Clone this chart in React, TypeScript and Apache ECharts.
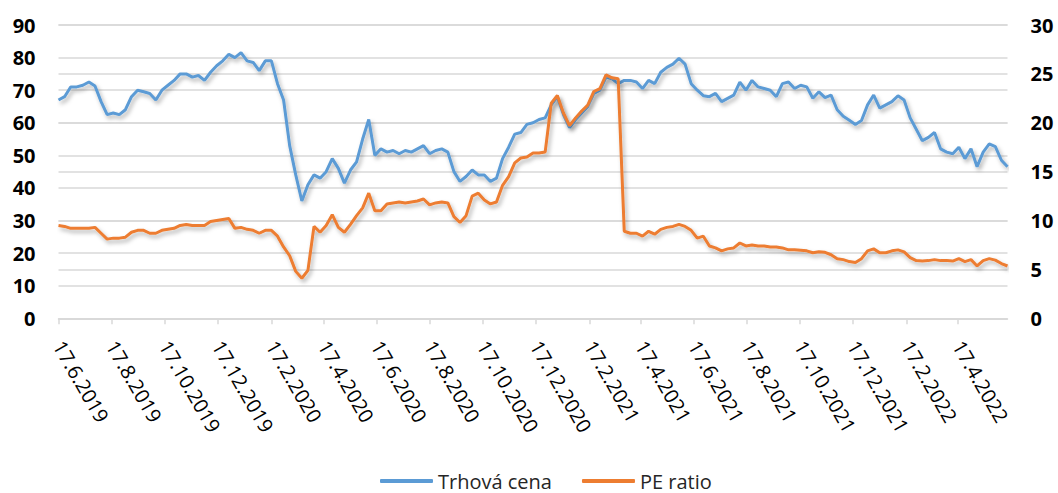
import React, { useEffect, useRef } from "react";
import * as echarts from "echarts";

// Weekly samples starting 17.6.2019
const START_LABEL = "17.6.2019";
const SAMPLE_STEP_DAYS = 7;

const PRICE = [
  67, 68, 71, 71, 71.5, 72.5, 71.3, 66.5, 62.5, 63,
  62.5, 64, 68, 70, 69.5, 69, 67, 70, 71.5, 73,
  75, 75, 74, 74.5, 73, 75.5, 77.5, 79, 81, 80,
  81.5, 79, 78.5, 76, 79, 79, 72, 67, 53, 44,
  36, 41, 44, 43, 45, 49, 46, 41.5, 45.5, 48,
  55, 61, 50, 52, 51, 51.5, 50.5, 51.5, 51, 52,
  53, 50.5, 51.5, 52, 51, 45, 42, 43.5, 45.5, 44,
  44, 42, 43, 49, 52.5, 56.5, 57, 59.5, 60, 61,
  61.5, 65.5, 68, 62.5, 58.5, 61, 63, 65, 69, 70,
  74, 73.5, 72, 73, 73, 72.5, 70.5, 73, 72, 75.5,
  77, 78, 79.8, 78, 72, 70, 68.3, 68, 69, 66.5,
  67.5, 68.5, 72.5, 70, 73, 71, 70.5, 70, 68, 72,
  72.5, 70.5, 71.5, 71, 67.5, 69.5, 67.7, 68.5, 64, 62,
  60.8, 59.5, 60.7, 65.5, 68.5, 64.5, 65.5, 66.5, 68.3, 67,
  61.5, 58, 54.5, 55.5, 57, 52, 51, 50.5, 52.5, 49,
  52, 46.5, 51, 53.5, 52.7, 48.5, 46.5,
];

const PE_RATIO = [
  9.5, 9.4, 9.2, 9.2, 9.2, 9.2, 9.3, 8.7, 8.1, 8.2,
  8.2, 8.3, 8.8, 9.0, 9.0, 8.7, 8.7, 9.0, 9.1, 9.2,
  9.5, 9.6, 9.5, 9.5, 9.5, 9.9, 10.0, 10.1, 10.2, 9.2,
  9.3, 9.1, 9.0, 8.7, 9.0, 9.0, 8.4, 7.3, 6.4, 4.8,
  4.1, 4.9, 9.4, 8.8, 9.5, 10.6, 9.3, 8.8, 9.6, 10.5,
  11.3, 12.8, 11.0, 11.0, 11.7, 11.8, 11.9, 11.8, 11.9, 12.0,
  12.2, 11.6, 11.8, 11.9, 11.8, 10.4, 9.8, 10.5, 12.5, 12.8,
  12.1, 11.7, 11.9, 13.6, 14.5, 15.9, 16.4, 16.5, 16.9, 16.9,
  17.0, 22.0, 22.8, 21.0, 19.7, 20.5, 21.2, 21.8, 23.2, 23.5,
  24.9, 24.6, 24.5, 8.9, 8.7, 8.7, 8.4, 8.9, 8.6, 9.1,
  9.3, 9.4, 9.6, 9.4, 9.0, 8.2, 8.4, 7.4, 7.2, 6.9,
  7.1, 7.2, 7.7, 7.4, 7.5, 7.4, 7.4, 7.3, 7.3, 7.2,
  7.0, 7.0, 6.95, 6.9, 6.7, 6.8, 6.75, 6.5, 6.1, 6.0,
  5.8, 5.7, 6.1, 6.9, 7.1, 6.7, 6.7, 6.9, 7.0, 6.8,
  6.2, 5.9, 5.85, 5.9, 6.0, 5.9, 5.9, 5.85, 6.1, 5.8,
  6.0, 5.35, 5.9, 6.1, 5.95, 5.6, 5.35,
];

const X_TICK_LABELS = [
  "17.6.2019", "17.8.2019", "17.10.2019", "17.12.2019",
  "17.2.2020", "17.4.2020", "17.6.2020", "17.8.2020", "17.10.2020", "17.12.2020",
  "17.2.2021", "17.4.2021", "17.6.2021", "17.8.2021", "17.10.2021", "17.12.2021",
  "17.2.2022", "17.4.2022",
];

const SERIES_NAMES = ["Trhová cena", "PE ratio"];

const DAY_MS = 86400000;
function parseDMY(s: string): number {
  const [d, m, y] = s.split(".").map(Number);
  return Date.UTC(y, m - 1, d);
}

export default function App() {
  const ref = useRef<HTMLDivElement>(null);

  useEffect(() => {
    if (!ref.current) return;
    const chart = echarts.init(ref.current, undefined, { renderer: "svg" });
    const start = parseDMY(START_LABEL);
    const tickOffsets = X_TICK_LABELS.map((l) => Math.round((parseDMY(l) - start) / DAY_MS));
    const labelByOffset: Record<number, string> = {};
    tickOffsets.forEach((o, i) => (labelByOffset[o] = X_TICK_LABELS[i]));
    const maxDay = (PRICE.length - 1) * SAMPLE_STEP_DAYS;
    const font = "'Open Sans', 'Liberation Sans', sans-serif";
    const grid = "#d9d9d9";
    const shadow = {
      shadowColor: "rgba(0,0,0,0.3)",
      shadowBlur: 4,
      shadowOffsetX: 2,
      shadowOffsetY: 3,
    };

    chart.setOption({
      animation: false,
      backgroundColor: "#fff",
      grid: {
        left: 58.5,
        right: 50.5,
        top: 25,
        bottom: 174.7,
        outerBoundsMode: "none",
        containLabel: false,
      },
      legend: {
        data: SERIES_NAMES,
        left: 375,
        top: 466,
        icon: "roundRect",
        itemWidth: 53,
        itemHeight: 4,
        itemGap: 30,
        textStyle: { fontFamily: font, fontSize: 20, color: "#262626" },
      },
      xAxis: {
        type: "value",
        min: 0,
        max: maxDay,
        splitLine: { show: false },
        axisLine: { show: true, lineStyle: { color: grid, width: 1.5 } },
        axisTick: {
          show: true,
          customValues: tickOffsets,
          length: 6,
          lineStyle: { color: grid, width: 1.5 },
        },
        axisLabel: {
          customValues: tickOffsets,
          rotate: -60,
          margin: 24,
          fontFamily: font,
          fontSize: 20,
          color: "#000",
          formatter: (v: number) => labelByOffset[Math.round(v)] ?? "",
        },
      },
      yAxis: [
        {
          type: "value",
          min: 0,
          max: 90,
          interval: 10,
          axisLine: { show: false },
          axisTick: { show: false },
          splitLine: { show: true, lineStyle: { color: grid, width: 1.5 } },
          axisLabel: {
            margin: 23,
            fontFamily: font,
            fontSize: 20,
            fontWeight: "bold",
            color: "#000",
          },
        },
        {
          type: "value",
          min: 0,
          max: 30,
          interval: 5,
          axisLine: { show: false },
          axisTick: { show: false },
          splitLine: { show: true, lineStyle: { color: grid, width: 1.5 } },
          axisLabel: {
            margin: 23,
            fontFamily: font,
            fontSize: 20,
            fontWeight: "bold",
            color: "#000",
          },
        },
      ],
      series: [
        {
          name: SERIES_NAMES[0],
          type: "line",
          yAxisIndex: 0,
          showSymbol: false,
          symbol: "none",
          color: "#5B9BD5",
          lineStyle: { width: 3, color: "#5B9BD5", ...shadow },
          data: PRICE.map((v, i) => [i * SAMPLE_STEP_DAYS, v]),
          z: 2,
        },
        {
          name: SERIES_NAMES[1],
          type: "line",
          yAxisIndex: 1,
          showSymbol: false,
          symbol: "none",
          color: "#ED7D31",
          lineStyle: { width: 3, color: "#ED7D31", ...shadow },
          data: PE_RATIO.map((v, i) => [i * SAMPLE_STEP_DAYS, v]),
          z: 3,
        },
      ],
    });
    return () => chart.dispose();
  }, []);

  return (
    <div
      ref={ref}
      style={{ position: "absolute", left: 0, top: 0, width: 1058, height: 493 }}
    />
  );
}
